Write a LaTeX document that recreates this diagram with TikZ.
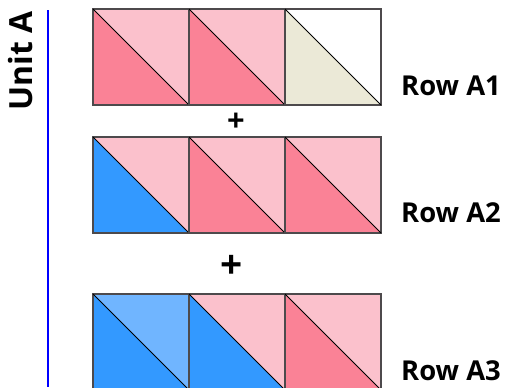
\documentclass[tikz,border=0pt]{standalone}
\usepackage{fontspec}
\setmainfont{Open Sans}
\definecolor{blush}{HTML}{FBC1CC}
\definecolor{rose}{HTML}{FA8296}
\definecolor{cream}{HTML}{EBE9D7}
\definecolor{sky}{HTML}{3399FF}
\definecolor{palesky}{HTML}{70B5FF}
\definecolor{edgegray}{HTML}{4D4A4C}
\tikzset{
  tileedge/.style={draw=edgegray, line width=1.3bp},
  diag/.style={draw=black, line width=1bp},
  rowlabel/.style={font=\fontsize{27.5}{31}\selectfont\bfseries, inner sep=0pt, anchor=west},
  plussign/.style={font=\bfseries, inner sep=0pt}
}

\begin{document}
\begin{tikzpicture}[x=1bp,y=-1bp]
		\useasboundingbox (0,0) rectangle (508,387);
		\clip (0,0) rectangle (508,387);
		% column / top of row / lower triangle / upper triangle
		\foreach \c/\t/\lo/\hi in {0/9/rose/blush, 1/9/rose/blush, 2/9/cream/white,
		                           0/137/sky/blush, 1/137/rose/blush, 2/137/rose/blush,
		                           0/294/sky/palesky, 1/294/sky/blush, 2/294/rose/blush}{
			\pgfmathsetmacro{\x}{93+96*\c}
			\fill[\lo] (\x,\t) -- ++(0,96) -- ++(96,0) -- cycle;
			\fill[\hi] (\x,\t) -- ++(96,0) -- ++(0,96) -- cycle;
			\draw[tileedge] (\x,\t) rectangle ++(96,96);
			\draw[diag] (\x,\t) -- ++(96,96);
		}
		\draw[blue, line width=1.4bp] (48,10) -- (48,387); % linea unita
		\node[font=\fontsize{32}{36}\selectfont\bfseries, rotate=90, inner sep=0pt] (unitA) at (21,61) {Unit A};
		\node[rowlabel] (rowA1) at (401,86) {Row A1};
		\node[rowlabel] (rowA2) at (401,213) {Row A2};
		\node[rowlabel] (rowA3) at (401,370.5) {Row A3};
		\node[plussign, font=\fontsize{31}{33}\selectfont\bfseries] (plusA) at (236,122) {+};
		\node[plussign, font=\fontsize{39}{41}\selectfont\bfseries] (plusB) at (232,267) {+};

	\end{tikzpicture}
\end{document}
